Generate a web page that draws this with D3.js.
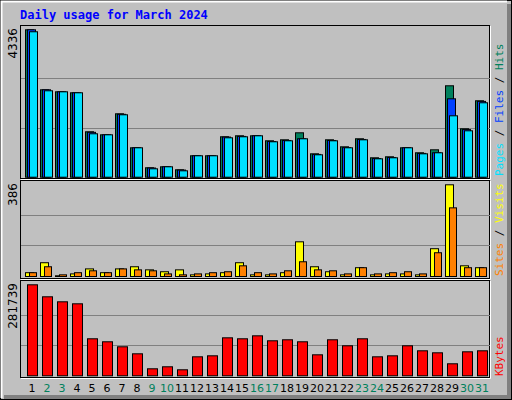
<!DOCTYPE html><html><head><meta charset="utf-8">
<script src="https://cdn.jsdelivr.net/npm/d3@7"></script>
<style>body{margin:0;background:#fff}svg{display:block}</style></head><body>
<script>
const days=d3.range(1,32);
const weekend=[2,3,9,10,16,17,23,24,30,31];
const hits=[4336,2571,2512,2483,1336,1247,1865,865,277,306,218,630,630,1189,1218,1218,1071,1100,1306,688,1100,894,1130,571,600,865,718,806,2689,1424,2248];
const files=[4336,2571,2512,2483,1320,1247,1850,865,270,306,210,630,630,1180,1200,1218,1050,1080,1130,670,1080,870,1110,550,580,865,700,718,2306,1400,2230];
const pages=[4278,2542,2512,2483,1277,1247,1836,865,247,306,188,630,630,1159,1189,1218,1042,1071,1130,659,1071,865,1100,541,571,865,688,718,1806,1365,2189];
const visits=[16,58,3,11,32,16,32,41,28,20,28,7,11,16,58,7,7,16,146,41,20,7,37,7,11,11,7,117,386,45,37];
const sites=[16,41,7,16,24,16,32,28,24,11,7,11,16,20,45,16,11,24,62,28,24,11,37,11,16,20,11,100,289,37,37];
const kbytes=[281739,244600,229100,222900,114600,105300,89800,68100,21700,27900,18600,58800,61900,117600,114600,123800,108400,111500,105300,65000,111500,92900,114600,58800,61900,92900,77400,71200,37200,74300,77400];
const C={hits:"#00805c",files:"#0040ff",pages:"#00e0ff",visits:"#ffff00",sites:"#ff8000",kb:"#ff0000"};
const svg=d3.select("body").append("svg").attr("width",512).attr("height",400);
svg.append("rect").attr("width",512).attr("height",400).attr("fill","#c0c0c0");
svg.append("rect").attr("x",0.5).attr("y",0.5).attr("width",511).attr("height",399).attr("fill","none").attr("stroke","#000");
svg.append("path").attr("d","M1.5,398V1.5H507").attr("stroke","#fff").attr("fill","none").attr("stroke-width",2);
svg.append("rect").attr("x",507).attr("y",4).attr("width",4).attr("height",395).attr("fill","#808080");
svg.append("rect").attr("x",4).attr("y",395).attr("width",507).attr("height",4).attr("fill","#808080");
svg.append("text").attr("x",20).attr("y",19).text("Daily usage for March 2024").attr("fill","#0000ff")
 .attr("font-family","DejaVu Sans Mono").attr("font-weight","bold").attr("font-size",12);
const x=d3.scaleLinear().domain([1,31]).range([25,475]);
// panel frames
function panel(y0,y1){
 svg.append("rect").attr("x",20.5).attr("y",y0+0.5).attr("width",469).attr("height",y1-y0).attr("fill","#c0c0c0").attr("stroke","#000");
 svg.append("path").attr("d",`M21,${y1+1.5}H490.5V${y0+1}`).attr("stroke","#fff").attr("fill","none");
}
panel(25,178);panel(180,278);panel(280,377);
function grid(y){[1/3,2/3].forEach(f=>{const v=y.domain()[1]*f;svg.append("line").attr("x1",21).attr("x2",490).attr("y1",Math.round(y(v))+0.5).attr("y2",Math.round(y(v))+0.5).attr("stroke","#808080");});}
const yT=d3.scaleLinear().domain([0,4336]).range([176.7,29.3]);
const yM=d3.scaleLinear().domain([0,386]).range([276,184.3]);
const yB=d3.scaleLinear().domain([0,281739]).range([375.3,284.3]);
grid(yT);grid(yM);grid(yB);
function bars(data,y,dx,w,col){
 svg.append("g").selectAll("rect").data(data).join("rect")
  .attr("x",(d,i)=>x(days[i])+dx+0.5).attr("y",d=>y(d)+0.5).attr("width",w).attr("height",d=>y(0)-y(d))
  .attr("fill",col).attr("stroke","#000");
}
bars(hits,yT,0,8,C.hits);bars(files,yT,2,8,C.files);bars(pages,yT,4,8,C.pages);
bars(visits,yM,0,8,C.visits);bars(sites,yM,4,7,C.sites);
bars(kbytes,yB,2,10,C.kb);
function yl(txt,y){svg.append("text").attr("transform",`translate(17,${y}) rotate(-90)`).attr("text-anchor","end")
 .attr("font-family","DejaVu Sans").attr("font-size",12).attr("fill","#000").text(txt);}
yl(d3.max(hits),28);yl(d3.max(visits),183);yl(d3.max(kbytes),283);
function rl(parts,yb){const t=svg.append("text").attr("transform",`translate(503,${yb}) rotate(-90)`)
 .attr("font-family","DejaVu Sans Mono").attr("font-size",11);
 parts.forEach(p=>t.append("tspan").attr("fill",p[1]).text(p[0]));}
rl([["Pages",C.pages],[" / ","#000"],["Files",C.files],[" / ","#000"],["Hits",C.hits]],176);
rl([["Sites",C.sites],[" / ","#000"],["Visits",C.visits]],276);
rl([["KBytes",C.kb]],376);
svg.append("g").selectAll("text").data(days).join("text").attr("x",d=>x(d)+7).attr("y",392).attr("text-anchor","middle")
 .attr("font-family","DejaVu Sans").attr("font-size",11).attr("fill",d=>weekend.includes(d)?C.hits:"#000").text(d=>d);
</script></body></html>
